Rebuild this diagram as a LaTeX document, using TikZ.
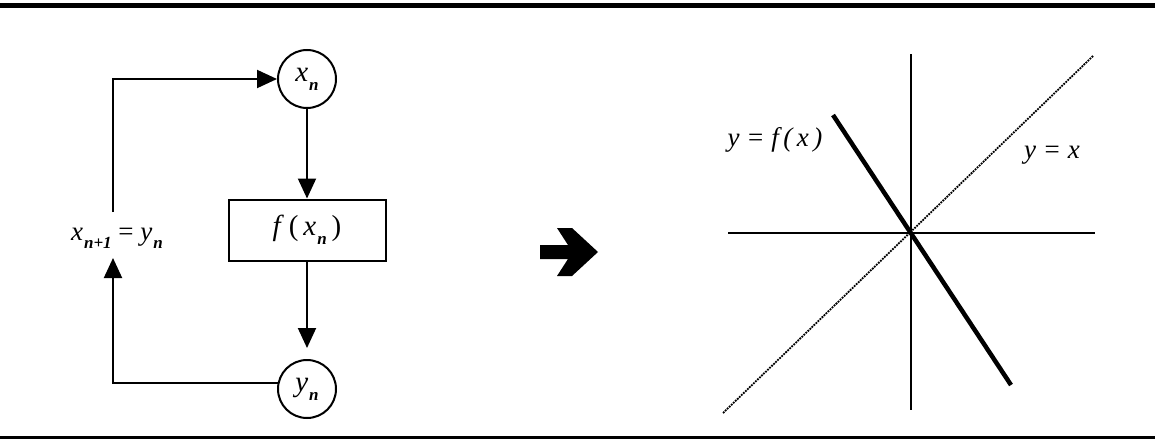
\documentclass[tikz,border=0pt]{standalone}
\usepackage{fontspec}
\setmainfont{Liberation Serif}[
    ItalicFont={Liberation Serif Italic},
    BoldItalicFont={Liberation Serif Bold Italic}]
\usetikzlibrary{positioning, arrows.meta}

\newcommand{\vsub}[2]{\textit{#1}\kern1pt\raisebox{-0.3em}{\fontsize{17}{17}\selectfont\bfseries\itshape #2}}

\begin{document}
\begin{tikzpicture}[
    x=1pt, y=-1pt, line width=2pt, node distance=150pt, on grid,
    >={Triangle[length=20pt, width=18pt]},
    state/.style={circle, draw, minimum size=58pt, inner sep=0pt, font=\fontsize{29}{30}\selectfont},
    func/.style={rectangle, draw, minimum width=157pt, minimum height=61pt, font=\fontsize{29}{30}\selectfont},
    lbl/.style={inner sep=0pt, font=\fontsize{27}{28}\selectfont},
    axis/.style={line width=2.4pt},
    ident/.style={line width=1.8pt, densely dotted},
    graph/.style={line width=4.5pt}
]
    \useasboundingbox (0,0) rectangle (1155,439);

    % rules
    \draw[line width=5pt] (0,5.5) -- (1155,5.5);
    \draw[line width=3pt] (0,437.5) -- (1155,437.5);

    % iteration loop
    \node[state] (xn) at (307,79) {\vsub{x}{n}};
    \node[func] (fx) [below=151pt of xn] {\textit{f}\,(\,\vsub{x}{n}\,)};
    \node[state] (yn) [below=159pt of fx] {\vsub{y}{n}};
    \node[lbl] (rec) at (117,238) {\vsub{x}{n+1} = \vsub{y}{n}};
    \coordinate (up) at (113,258);
    \coordinate (top) at (113,212);

    \draw[->] (xn) -- (fx);
    \draw[->, shorten >=11pt] (fx) -- (yn);
    \draw[->] (yn.168) -| (up);
    \draw[->] (top) |- (xn.west);

    % block arrow
    \fill (540,245) -- (568,245) -- (557,228) -- (572,228) -- (598,252)
          -- (572,276) -- (557,276) -- (568,259) -- (540,259) -- cycle;

    % fixed point plot
    \draw[axis] (911,54) -- (911,410);
    \draw[axis] (728,233) -- (1095,233);
    \draw[ident] (723,413) -- (1093,56);
    \draw[graph] (833,115) -- (1011,385);
    \node[lbl] (fl) at (775,140) {\itshape y = f\,(\,x\,)};
    \node[lbl] (il) at (1052,155) {\itshape y = x};
\end{tikzpicture}
\end{document}
